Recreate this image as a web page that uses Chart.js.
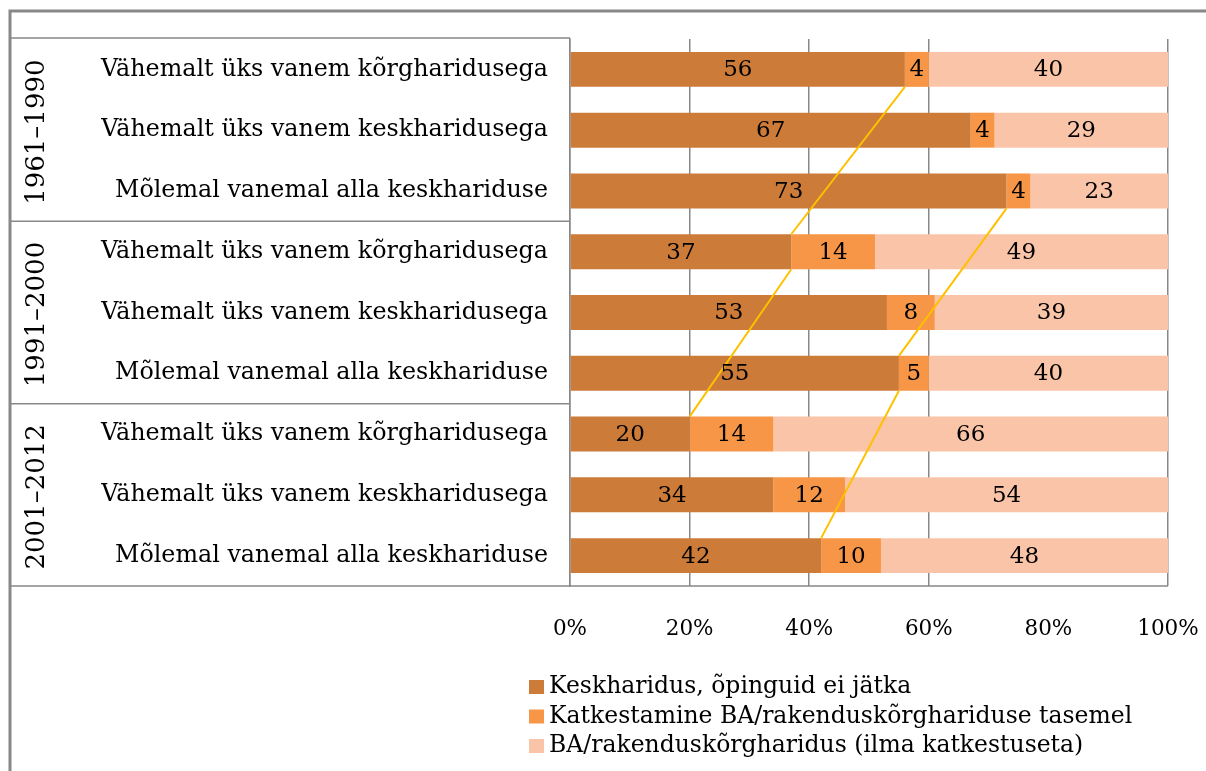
<!DOCTYPE html>
<html>
<head>
<meta charset="utf-8">
<script src="https://cdn.jsdelivr.net/npm/chart.js@4.4.0/dist/chart.umd.min.js"></script>
<style>
  body { margin: 0; background: #fff; }
  #wrap { width: 1206px; height: 771px; }
</style>
</head>
<body>
<div id="wrap"><canvas id="chart"></canvas></div>
<script>
"use strict";

// data
const categories = [
  "Vähemalt üks vanem kõrgharidusega",
  "Vähemalt üks vanem keskharidusega",
  "Mõlemal vanemal alla keskhariduse",
  "Vähemalt üks vanem kõrgharidusega",
  "Vähemalt üks vanem keskharidusega",
  "Mõlemal vanemal alla keskhariduse",
  "Vähemalt üks vanem kõrgharidusega",
  "Vähemalt üks vanem keskharidusega",
  "Mõlemal vanemal alla keskhariduse"
];
const groups = ["1961–1990", "1991–2000", "2001–2012"];
const seriesNames = [
  "Keskharidus, õpinguid ei jätka",
  "Katkestamine BA/rakenduskõrghariduse tasemel",
  "BA/rakenduskõrgharidus (ilma katkestuseta)"
];
const keskharidus = [56, 67, 73, 37, 53, 55, 20, 34, 42];
const katkestamine = [4, 4, 4, 14, 8, 5, 14, 12, 10];
const korgharidus = [40, 29, 23, 49, 39, 40, 66, 54, 48];
const xTicks = [0, 20, 40, 60, 80, 100];

const colors = ["#CC7B38", "#F79646", "#FAC4A8"];
const serif = "'DejaVu Serif', serif";
const gray = "#888888";

// series lines join the first segment of these bars
const seriesLines = [[0, 3, 6], [2, 5, 8]];

const tablePlugin = {
  id: "table",
  afterDraw(chart) {
    const ctx = chart.ctx;
    const area = chart.chartArea;
    const y = chart.scales.y;
    ctx.save();
    ctx.strokeStyle = gray;
    // outer frame
    ctx.lineWidth = 3;
    ctx.beginPath();
    ctx.moveTo(10, 771);
    ctx.lineTo(10, 11);
    ctx.lineTo(1206, 11);
    ctx.stroke();
    // table rows
    ctx.lineWidth = 1.5;
    const seps = [area.top - 1];
    for (let g = 1; g < groups.length; g++) {
      const i = g * 3;
      seps.push((y.getPixelForValue(i - 1) + y.getPixelForValue(i)) / 2);
    }
    ctx.beginPath();
    seps.forEach((s) => {
      ctx.moveTo(10, s);
      ctx.lineTo(area.left, s);
    });
    ctx.moveTo(10, area.bottom);
    ctx.lineTo(area.right, area.bottom);
    ctx.stroke();
    // group labels
    ctx.fillStyle = "#000";
    ctx.font = "26px " + serif;
    ctx.textAlign = "center";
    ctx.textBaseline = "middle";
    groups.forEach((g, k) => {
      const top = y.getPixelForValue(k * 3) - 30;
      const bottom = y.getPixelForValue(k * 3 + 2) + 30;
      ctx.save();
      ctx.translate(37, (top + bottom) / 2 + 2);
      ctx.rotate(-Math.PI / 2);
      ctx.fillText(g, 0, 0);
      ctx.restore();
    });
    // legend
    ctx.textAlign = "left";
    ctx.font = "23.5px " + serif;
    seriesNames.forEach((name, k) => {
      const cy = 687 + k * 29.5;
      ctx.fillStyle = colors[k];
      ctx.fillRect(529, cy - 7, 15, 14);
      ctx.fillStyle = "#000";
      ctx.fillText(name, 549, cy);
    });
    ctx.restore();
  }
};

const barExtras = {
  id: "barExtras",
  afterDatasetsDraw(chart) {
    const ctx = chart.ctx;
    const x = chart.scales.x;
    const first = chart.getDatasetMeta(0).data;
    ctx.save();
    // series lines
    ctx.strokeStyle = "#FFC000";
    ctx.lineWidth = 2;
    seriesLines.forEach((idx) => {
      ctx.beginPath();
      for (let k = 0; k < idx.length - 1; k++) {
        const a = first[idx[k]];
        const b = first[idx[k + 1]];
        ctx.moveTo(x.getPixelForValue(keskharidus[idx[k]]), a.y + a.height / 2);
        ctx.lineTo(x.getPixelForValue(keskharidus[idx[k + 1]]), b.y - b.height / 2);
      }
      ctx.stroke();
    });
    // value labels
    ctx.fillStyle = "#000";
    ctx.font = "23px " + serif;
    ctx.textAlign = "center";
    ctx.textBaseline = "middle";
    chart.data.datasets.forEach((ds, d) => {
      chart.getDatasetMeta(d).data.forEach((el, i) => {
        ctx.fillText(ds.data[i], (el.x + el.base) / 2, el.y + 1);
      });
    });
    ctx.restore();
  }
};

new Chart(document.getElementById("chart"), {
  type: "bar",
  data: {
    labels: categories,
    datasets: [
      { label: seriesNames[0], data: keskharidus, backgroundColor: colors[0] },
      { label: seriesNames[1], data: katkestamine, backgroundColor: colors[1] },
      { label: seriesNames[2], data: korgharidus, backgroundColor: colors[2] }
    ]
  },
  options: {
    indexAxis: "y",
    responsive: true,
    maintainAspectRatio: false,
    animation: false,
    barPercentage: 0.575,
    categoryPercentage: 1,
    layout: { padding: { top: 39, left: 10, right: 38, bottom: 0 } },
    plugins: {
      legend: { display: false },
      tooltip: { enabled: false }
    },
    scales: {
      x: {
        stacked: true,
        min: 0,
        max: 100,
        afterBuildTicks: (scale) => {
          scale.ticks = xTicks.map((v) => ({ value: v }));
        },
        afterFit: (scale) => {
          scale.height = 185;
          scale.paddingLeft = 0;
          scale.paddingRight = 0;
        },
        ticks: {
          padding: 31,
          color: "#000",
          font: { family: serif, size: 21.5 },
          callback: (v) => v + "%"
        },
        grid: {
          drawTicks: false,
          lineWidth: 1.5,
          color: (c) => (c.tick && c.tick.value === 80 ? "rgba(0,0,0,0)" : gray)
        },
        border: { display: false }
      },
      y: {
        stacked: true,
        afterFit: (scale) => {
          scale.width = 560;
        },
        ticks: {
          padding: 22,
          color: "#000",
          font: { family: serif, size: 23.8 }
        },
        grid: { display: false, drawTicks: false },
        border: { display: true, color: gray, width: 1.5 }
      }
    }
  },
  plugins: [tablePlugin, barExtras]
});
</script>
</body>
</html>
